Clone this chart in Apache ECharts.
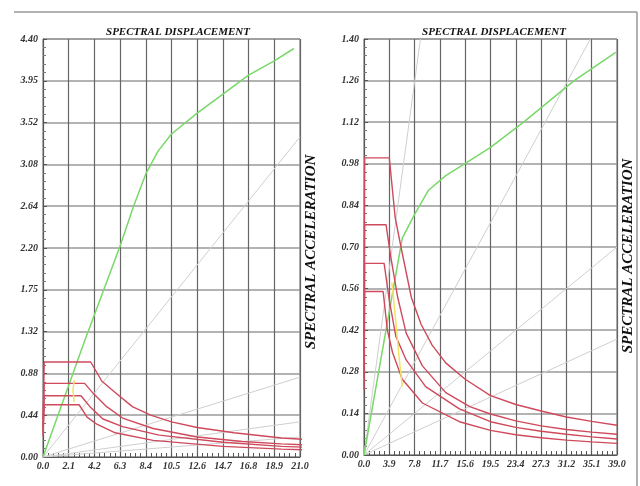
<!DOCTYPE html>
<html>
<head>
<meta charset="utf-8">
<script src="https://cdn.jsdelivr.net/npm/echarts@6/dist/echarts.min.js"></script>
<style>
  html, body { margin: 0; padding: 0; background: #fff; }
  #main { width: 640px; height: 486px; }
</style>
</head>
<body>
<div id="main"></div>
<script>
  // tick labels
  var xTicksL = ['0.0','2.1','4.2','6.3','8.4','10.5','12.6','14.7','16.8','18.9','21.0'];
  var yTicksL = ['0.00','0.44','0.88','1.32','1.75','2.20','2.64','3.08','3.52','3.95','4.40'];
  var xTicksR = ['0.0','3.9','7.8','11.7','15.6','19.5','23.4','27.3','31.2','35.1','39.0'];
  var yTicksR = ['0.00','0.14','0.28','0.42','0.56','0.70','0.84','0.98','1.12','1.26','1.40'];

  // demand spectra (same four curves in both panels) [Sd, Sa]
  var spec1 = [[0,0.40],[0.1,1.0],[3.9,1.0],[4.8,0.80],[5.7,0.70],[7.3,0.53],[8.8,0.44],[10.5,0.37],[12.6,0.31],[15.6,0.255],[19.5,0.20],[23.4,0.17],[27.3,0.148],[31.2,0.128],[35.1,0.113],[39,0.10]];
  var spec2 = [[0,0.31],[0.1,0.775],[3.4,0.775],[4.1,0.67],[5.2,0.53],[6.5,0.41],[9.0,0.30],[12.6,0.21],[16.3,0.163],[19.5,0.138],[23.4,0.115],[27.3,0.098],[31.2,0.086],[35.1,0.077],[39,0.07]];
  var spec3 = [[0,0.26],[0.1,0.645],[3.1,0.645],[3.9,0.52],[4.9,0.40],[6.5,0.32],[9.5,0.23],[14.7,0.155],[19.5,0.112],[23.4,0.093],[27.3,0.08],[31.2,0.07],[35.1,0.061],[39,0.054]];
  var spec4 = [[0,0.22],[0.1,0.55],[2.95,0.55],[3.6,0.42],[4.4,0.345],[5.9,0.255],[9.0,0.175],[14.7,0.112],[19.5,0.083],[23.4,0.068],[27.3,0.058],[31.2,0.05],[35.1,0.044],[39,0.039]];

  // capacity curves
  var capL = [[0,0],[3.4,1.22],[6.3,2.22],[7.4,2.64],[8.4,2.98],[9.4,3.22],[10.5,3.40],[12.6,3.62],[14.7,3.82],[16.8,4.02],[18.9,4.17],[20.5,4.30]];
  var capR = [[0,0],[2.9,0.36],[5.9,0.73],[7.8,0.81],[9.9,0.89],[12.6,0.94],[15.5,0.98],[19.5,1.035],[24.6,1.12],[28.5,1.19],[32.4,1.26],[38.8,1.355]];

  // yellow traces
  var yelL = [[2.55,0.81],[2.45,0.70],[2.55,0.58]];
  var yelR = [[4.3,0.58],[4.9,0.45],[5.4,0.33],[5.9,0.23]];

  // constant period lines from origin
  var perL = [[[0,0],[21,3.37]],[[0,0],[21,0.84]],[[0,0],[21,0.37]],[[0,0],[21,0.21]]];
  var perR = [[[0,0],[8.7,1.40]],[[0,0],[34.9,1.40]],[[0,0],[39,0.70]],[[0,0],[39,0.39]]];

  var chart = echarts.init(document.getElementById('main'));

  var lblFont = {fontFamily: 'Liberation Serif', fontStyle: 'italic', fontWeight: 'bold', fontSize: 10, color: '#333'};
  var hdrFont = {fontFamily: 'Liberation Serif', fontStyle: 'italic', fontWeight: 'bold', fontSize: 11, color: '#111'};

  function xAx(idx, max, step, ticks){
    return {
      type: 'value', gridIndex: idx, min: 0, max: max, interval: step,
      axisLine: {show: true, lineStyle: {color: '#555', width: 1}},
      axisTick: {show: true, inside: true, length: 4, lineStyle: {color: '#555'}},
      minorTick: {show: true, splitNumber: 5, length: 4, lineStyle: {color: '#555'}},
      splitLine: {show: true, lineStyle: {color: '#666', width: 1.2}},
      axisLabel: Object.assign({margin: 4, formatter: function(v){ return ticks[Math.round(v/step)]; }}, lblFont)
    };
  }
  function yAx(idx, max, step, ticks){
    return {
      type: 'value', gridIndex: idx, min: 0, max: max, interval: step,
      axisLine: {show: true, lineStyle: {color: '#555', width: 1}},
      axisTick: {show: true, inside: true, length: 4, lineStyle: {color: '#555'}},
      minorTick: {show: true, splitNumber: 5, length: 3, lineStyle: {color: '#777'}},
      splitLine: {show: true, lineStyle: {color: '#9a9a9a', width: 1.5}},
      axisLabel: Object.assign({margin: 5, formatter: function(v){ return ticks[Math.round(v/step)]; }}, lblFont)
    };
  }

  function line(idx, data, color, width){
    return {
      type: 'line', xAxisIndex: idx, yAxisIndex: idx, data: data,
      symbol: 'none', silent: true, animation: false, clip: true,
      lineStyle: {color: color, width: width}
    };
  }

  var series = [];
  perL.forEach(function(d){ series.push(line(0, d, '#cfcfcf', 1)); });
  perR.forEach(function(d){ series.push(line(1, d, '#cfcfcf', 1)); });
  series.push(line(0, capL, '#78d868', 1.5));
  series.push(line(1, capR, '#78d868', 1.5));
  [spec1, spec2, spec3, spec4].forEach(function(d){
    series.push(line(0, d, '#cf4a5c', 1.4));
    series.push(line(1, d, '#cf4a5c', 1.4));
  });
  series.push(line(0, yelL, '#f2e266', 1.5));
  series.push(line(1, yelR, '#f2e266', 1.5));

  var nameFont = 'italic bold 15px "Liberation Serif"';

  var option = {
    backgroundColor: '#fff',
    animation: false,
    title: [
      {text: 'SPECTRAL DISPLACEMENT', left: 173, top: 22, textAlign: 'center', textStyle: hdrFont},
      {text: 'SPECTRAL DISPLACEMENT', left: 489, top: 22, textAlign: 'center', textStyle: hdrFont}
    ],
    grid: [
      {left: 43, top: 39, width: 257, height: 418, show: true, borderColor: '#666', borderWidth: 1},
      {left: 364, top: 39, width: 253, height: 416, show: true, borderColor: '#666', borderWidth: 1}
    ],
    xAxis: [xAx(0, 21, 2.1, xTicksL), xAx(1, 39, 3.9, xTicksR)],
    yAxis: [yAx(0, 4.4, 0.44, yTicksL), yAx(1, 1.4, 0.14, yTicksR)],
    graphic: [
      {type: 'line', shape: {x1: 14, y1: 12, x2: 637, y2: 12}, style: {stroke: '#999', lineWidth: 1.5}},
      {type: 'line', shape: {x1: 637, y1: 12, x2: 637, y2: 486}, style: {stroke: '#999', lineWidth: 1.5}},
      {type: 'text', x: 311, y: 252, rotation: Math.PI / 2,
        style: {text: 'SPECTRAL ACCELERATION', align: 'center', verticalAlign: 'middle', font: nameFont, fill: '#111'}},
      {type: 'text', x: 628, y: 256, rotation: Math.PI / 2,
        style: {text: 'SPECTRAL ACCELERATION', align: 'center', verticalAlign: 'middle', font: nameFont, fill: '#111'}}
    ],
    series: series
  };
  option && chart.setOption(option);
</script>
</body>
</html>
